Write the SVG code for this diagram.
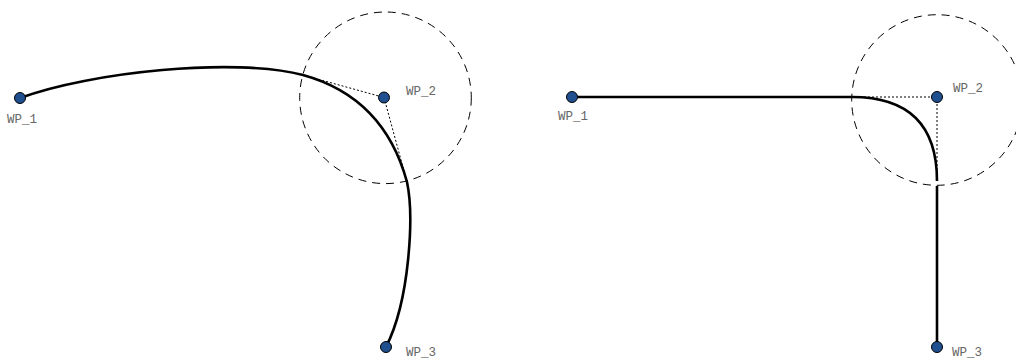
<svg xmlns="http://www.w3.org/2000/svg" width="1016" height="359" viewBox="0 0 1016 359">
<style>
.bg{fill:#fff}
.zone{fill:none;stroke:#000;stroke-width:1;stroke-dasharray:8 6}
.ctrl{fill:none;stroke:#000;stroke-width:1;stroke-dasharray:2 2}
.path{fill:none;stroke:#000;stroke-width:2.6;stroke-linecap:butt}
.wp{fill:#1f4f8f;stroke:#000;stroke-width:1}
.lbl{font-family:"Liberation Mono","Courier New",monospace;font-size:12.5px;fill:#666}
</style>
<rect class="bg" x="0" y="0" width="1016" height="359"/>
<g id="zones">
<circle class="zone" cx="385.5" cy="97.8" r="85.8"/>
<circle class="zone" cx="937" cy="100" r="85.3"/>
</g>
<g id="connectors">
<path class="ctrl" d="M303,75 L384,97.5 L407,182"/>
<path class="path" d="M20,98 C90,72 235,57 303,75 Q384,97.5 407,182 C414,215 410,300 386,347"/>
<path class="ctrl" d="M852,97 L937,97 L937,181"/>
<path class="path" d="M572,97 L852,97 Q937,97 937,181"/>
<path class="path" d="M937,186 L937,347"/>
</g>
<g id="wp1_left"><circle class="wp" cx="20" cy="98" r="5.5"/><text class="lbl" x="7" y="123">WP_1</text></g>
<g id="wp2_left"><circle class="wp" cx="384" cy="97.5" r="5.5"/><text class="lbl" x="406" y="95">WP_2</text></g>
<g id="wp3_left"><circle class="wp" cx="386" cy="347" r="5.5"/><text class="lbl" x="406" y="356">WP_3</text></g>
<g id="wp1_right"><circle class="wp" cx="572" cy="97" r="5.5"/><text class="lbl" x="558" y="120">WP_1</text></g>
<g id="wp2_right"><circle class="wp" cx="937" cy="97" r="5.5"/><text class="lbl" x="953" y="92">WP_2</text></g>
<g id="wp3_right"><circle class="wp" cx="937" cy="347" r="5.5"/><text class="lbl" x="952" y="356">WP_3</text></g>
</svg>
